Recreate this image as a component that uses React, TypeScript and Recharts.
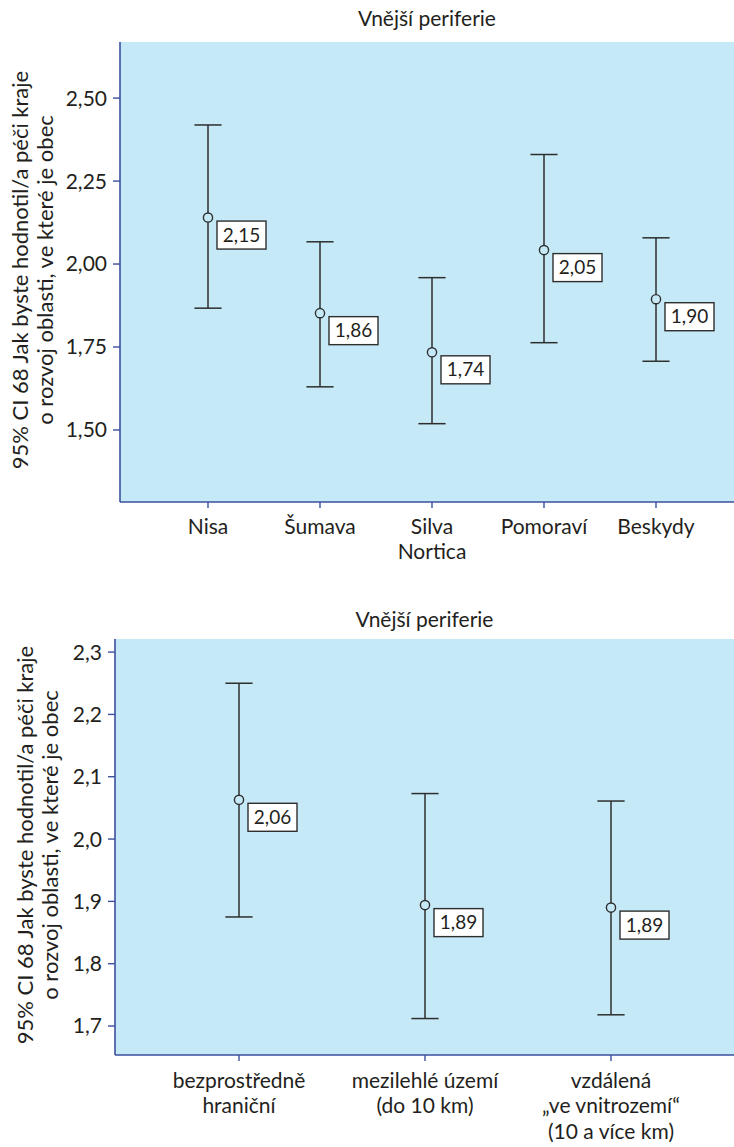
import React from 'react';
import { ComposedChart, Scatter, XAxis, YAxis, ErrorBar, CartesianGrid } from 'recharts';

const chartTitle = 'Vnější periferie';
const yLabelLines = ['95% CI 68 Jak byste hodnotil/a péči kraje', 'o rozvoj oblasti, ve které je obec'];

const regions = ['Nisa', 'Šumava', 'Silva\nNortica', 'Pomoraví', 'Beskydy'];
const regionMeans = [2.14, 1.852, 1.734, 2.042, 1.894];
const regionLow = [1.867, 1.63, 1.519, 1.763, 1.707];
const regionHigh = [2.419, 2.067, 1.959, 2.33, 2.079];
const regionMeanLabels = ['2,15', '1,86', '1,74', '2,05', '1,90'];
const regionTicks = [1.5, 1.75, 2.0, 2.25, 2.5];
const regionDomain = [1.283, 2.669];

const zones = ['bezprostředně\nhraniční', 'mezilehlé území\n(do 10 km)', 'vzdálená\n„ve vnitrozemí“\n(10 a více km)'];
const zoneMeans = [2.063, 1.894, 1.89];
const zoneLow = [1.875, 1.712, 1.718];
const zoneHigh = [2.25, 2.073, 2.061];
const zoneMeanLabels = ['2,06', '1,89', '1,89'];
const zoneTicks = [1.7, 1.8, 1.9, 2.0, 2.1, 2.2, 2.3];
const zoneDomain = [1.6535, 2.321];

const FONT = 'Lato, "Open Sans", sans-serif';
const TEXT = '#231f20';
const AXIS = '#3b4f9e';
const BG = '#c6e9f8';
const BAR = '#2e2e2e';

const build = (names: string[], means: number[], lows: number[], highs: number[], labels: string[]) =>
  names.map((name, i) => ({
    name,
    mean: means[i],
    err: [means[i] - lows[i], highs[i] - means[i]],
    label: labels[i],
  }));

const regionData = build(regions, regionMeans, regionLow, regionHigh, regionMeanLabels);
const zoneData = build(zones, zoneMeans, zoneLow, zoneHigh, zoneMeanLabels);

const MeanShape = (props: any) => {
  const { cx, cy, payload } = props;
  return (
    <g>
      <circle cx={cx} cy={cy} r={4.6} fill={BG} stroke={BAR} strokeWidth={1.4} />
      <rect x={cx + 9} y={cy + 3.5} width={49} height={28} fill="#ffffff" stroke={BAR} strokeWidth={1.4} />
      <text x={cx + 33.5} y={cy + 17.5} dy="0.35em" textAnchor="middle" fontSize={19} fill={TEXT} fontFamily={FONT}>
        {payload.label}
      </text>
    </g>
  );
};

const MultiTick = (props: any) => {
  const { x, y, payload } = props;
  const lines = String(payload.value).split('\n');
  return (
    <text x={x} y={y} textAnchor="middle" fontSize={21} fill={TEXT} fontFamily={FONT}>
      {lines.map((l, i) => (
        <tspan key={i} x={x} dy={i === 0 ? '0.71em' : 25.5}>
          {l}
        </tspan>
      ))}
    </text>
  );
};

const YLabel = ({ x1, x2, cy }: { x1: number; x2: number; cy: number }) => (
  <g fontSize={22} fill={TEXT} fontFamily={FONT}>
    <text transform={`translate(${x1},${cy}) rotate(-90)`} textAnchor="middle" fill={TEXT}>
      {yLabelLines[0]}
    </text>
    <text transform={`translate(${x2},${cy}) rotate(-90)`} textAnchor="middle" fill={TEXT}>
      {yLabelLines[1]}
    </text>
  </g>
);

const Panel = (p: any) => (
  <ComposedChart width={734} height={p.height} data={p.data} margin={p.margin}>
    <CartesianGrid horizontal={false} vertical={false} fill={BG} />
    <XAxis
      dataKey="name"
      type="category"
      padding={p.padding}
      height={80}
      axisLine={{ stroke: AXIS, strokeWidth: 1.6 }}
      tickLine={{ stroke: AXIS, strokeWidth: 1.4 }}
      tickSize={6}
      tickMargin={p.xTickMargin}
      tick={<MultiTick />}
      interval={0}
    />
    <XAxis
      xAxisId="top"
      orientation="top"
      dataKey="name"
      type="category"
      padding={p.padding}
      height={0}
      tick={false}
      tickLine={false}
      axisLine={{ stroke: AXIS, strokeWidth: 1.6 }}
    />
    <YAxis
      type="number"
      domain={p.domain}
      ticks={p.ticks}
      allowDataOverflow
      width={80}
      axisLine={{ stroke: AXIS, strokeWidth: 1.6 }}
      tickLine={{ stroke: AXIS, strokeWidth: 1.4 }}
      tickSize={7}
      tickMargin={6}
      tick={{ fill: TEXT, fontSize: 21, fontFamily: FONT }}
      tickFormatter={(v: number) => v.toFixed(p.digits).replace('.', ',')}
      label={{ content: () => <YLabel x1={p.yl1} x2={p.yl2} cy={p.ylc} /> }}
    />
    <Scatter dataKey="mean" isAnimationActive={false} shape={<MeanShape />}>
      <ErrorBar dataKey="err" direction="y" width={13.6} stroke={BAR} strokeWidth={1.5} />
    </Scatter>
  </ComposedChart>
);

const titleStyle = (top: number, left: number, width: number): React.CSSProperties => ({
  position: 'absolute',
  top,
  left,
  width,
  textAlign: 'center',
  fontFamily: FONT,
  fontSize: 21,
  color: TEXT,
  lineHeight: '24px',
});

export default function App() {
  return (
    <div style={{ position: 'absolute', left: 0, top: 0, width: 734, height: 1147, background: '#ffffff' }}>
      <div style={{ position: 'absolute', left: 0, top: 0 }}>
        <Panel
          height={590}
          data={regionData}
          margin={{ top: 42, right: 0, bottom: 8, left: 40 }}
          padding={{ left: 88, right: 78 }}
          domain={regionDomain}
          ticks={regionTicks}
          digits={2}
          xTickMargin={11}
          yl1={28}
          yl2={53}
          ylc={270}
        />
      </div>
      <div style={titleStyle(6, 120, 614)}>{chartTitle}</div>
      <div style={{ position: 'absolute', left: 0, top: 590 }}>
        <Panel
          height={557}
          data={zoneData}
          margin={{ top: 49, right: 0, bottom: 12, left: 35 }}
          padding={{ left: 124, right: 123 }}
          domain={zoneDomain}
          ticks={zoneTicks}
          digits={1}
          xTickMargin={12}
          yl1={33}
          yl2={58}
          ylc={255}
        />
      </div>
      <div style={titleStyle(607, 115, 619)}>{chartTitle}</div>
    </div>
  );
}
